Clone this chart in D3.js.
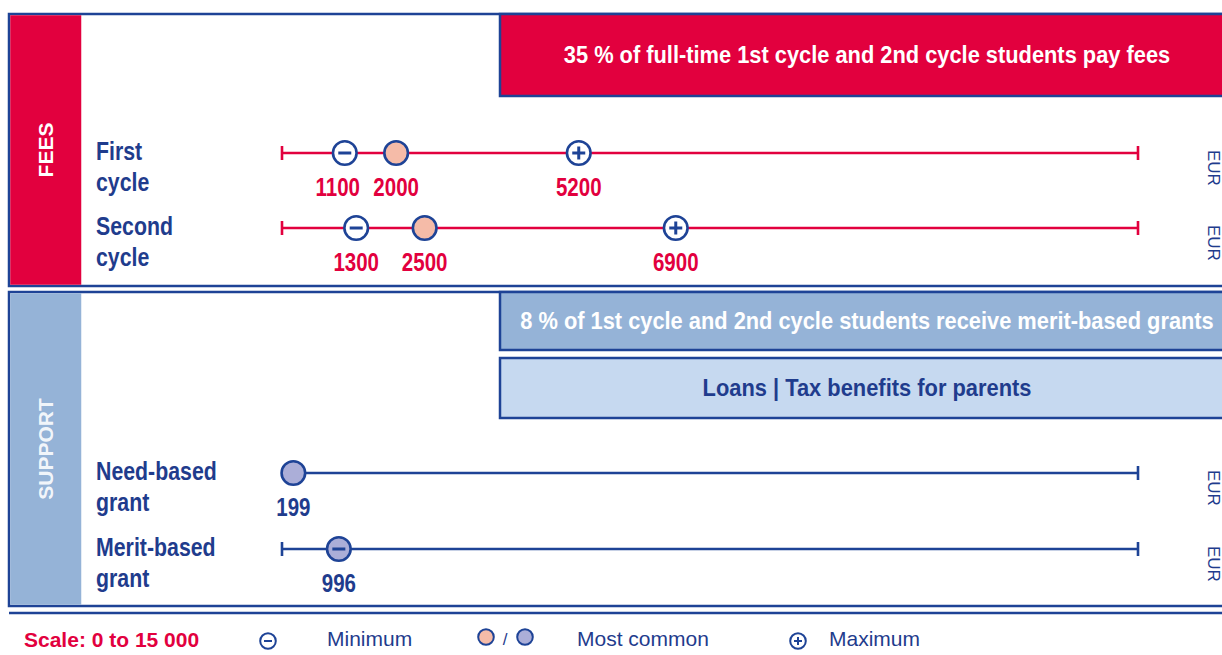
<!DOCTYPE html>
<html>
<head>
<meta charset="utf-8">
<script src="https://cdn.jsdelivr.net/npm/d3@7"></script>
<style>
  html, body { margin: 0; padding: 0; background: #fff; }
  svg { display: block; }
  .arial { font-family: "Liberation Sans", Arial, sans-serif; }
</style>
</head>
<body>
<svg id="chart" width="1222" height="655"></svg>
<script>
// ---------- DATA ----------
const categories   = ["First cycle", "Second cycle", "Need-based grant", "Merit-based grant"];
const rowSection   = ["FEES", "FEES", "SUPPORT", "SUPPORT"];
const minValues    = [1100, 1300, null, 996];
const commonValues = [2000, 2500, 199, 996];
const maxValues    = [5200, 6900, null, null];
const scaleDomain  = [0, 15000];
const unitLabel    = "EUR";
const sectionNames = ["FEES", "SUPPORT"];
const feesNotes    = ["35 % of full-time 1st cycle and 2nd cycle students pay fees"];
const supportNotes = ["8 % of 1st cycle and 2nd cycle students receive merit-based grants", "Loans | Tax benefits for parents"];
const legendLabels = ["Minimum", "Most common", "Maximum"];
const scaleLabel   = "Scale: 0 to 15 000";

// ---------- STYLE ----------
const RED = "#e2003e", BLUE = "#1e4396", TXT = "#1f3c8d";
const LIGHT = "#95b3d7", PALE = "#c6d9f0", PEACH = "#f5bba8", LAV = "#abaed8";
const NARROW = 0.82;
const R = 11.8;

const svg = d3.select("#chart");
const W = 1222;

const x = d3.scaleLinear().domain(scaleDomain).range([282, 1138]);
const y = d3.scaleOrdinal().domain(categories).range([153, 228, 473, 549]);

// condensed bold text: Liberation Sans Bold compressed horizontally (like Arial Narrow)
function narrowText(px, py, str, size, fill, anchor, targetWidth) {
  const g = svg.append("g");
  const t = g.append("text").attr("class", "arial")
    .attr("font-size", size).attr("font-weight", "bold").attr("fill", fill)
    .attr("text-anchor", anchor || "start").text(str);
  let sx = NARROW;
  if (targetWidth) {
    const len = t.node().getComputedTextLength();
    if (len > 0) sx = targetWidth / len;
  }
  g.attr("transform", `translate(${px},${py}) scale(${sx},1)`);
  return t;
}

// ---------- SECTION BOXES ----------
const sectionBoxes = [
  {name: sectionNames[0], y0: 14, y1: 286, band: RED, labelY: 150},
  {name: sectionNames[1], y0: 292, y1: 606, band: LIGHT, labelY: 449}
];
sectionBoxes.forEach(s => {
  svg.append("rect").attr("x", 9).attr("y", s.y0).attr("width", W).attr("height", s.y1 - s.y0)
    .attr("fill", "#fff").attr("stroke", BLUE).attr("stroke-width", 2.5);
  svg.append("rect").attr("x", 10.25).attr("y", s.y0 + 1.25).attr("width", 71).attr("height", s.y1 - s.y0 - 2.5)
    .attr("fill", s.band);
  svg.append("text").attr("class", "arial")
    .attr("transform", `translate(45.5,${s.labelY}) rotate(-90)`)
    .attr("text-anchor", "middle").attr("dy", "0.36em")
    .attr("font-size", 21).attr("font-weight", "bold").attr("fill", "#fff")
    .attr("fill-opacity", s.name === "SUPPORT" ? 0.9 : 1)
    .text(s.name);
});
svg.append("line").attr("x1", 9).attr("x2", W).attr("y1", 613).attr("y2", 613)
  .attr("stroke", BLUE).attr("stroke-width", 2.5);

// ---------- NOTE BOXES ----------
const notes = [
  {text: feesNotes[0], y0: 14, y1: 96, fill: RED, color: "#fff", len: 607},
  {text: supportNotes[0], y0: 292, y1: 350, fill: LIGHT, color: "#fff", len: 694},
  {text: supportNotes[1], y0: 358, y1: 418, fill: PALE, color: TXT, len: 329}
];
notes.forEach(n => {
  svg.append("rect").attr("x", 500).attr("y", n.y0).attr("width", 740).attr("height", n.y1 - n.y0)
    .attr("fill", n.fill).attr("stroke", BLUE).attr("stroke-width", 2.5);
  narrowText(867, (n.y0 + n.y1) / 2 + 8, n.text, 23, n.color, "middle", n.len);
});

// ---------- ROWS ----------
const rows = categories.map((c, i) => ({
  cat: c, sec: rowSection[i], min: minValues[i], common: commonValues[i], max: maxValues[i]
}));

rows.forEach(r => {
  const ly = y(r.cat);
  const col = r.sec === "FEES" ? RED : BLUE;

  // markers (merge coinciding values)
  const marks = [];
  const add = (v, type) => {
    if (v == null) return;
    let m = marks.find(d => d.v === v);
    if (!m) { m = {v, types: []}; marks.push(m); }
    m.types.push(type);
  };
  add(r.min, "min"); add(r.common, "common"); add(r.max, "max");

  // baseline
  svg.append("line").attr("x1", x(scaleDomain[0])).attr("x2", x(scaleDomain[1]))
    .attr("y1", ly).attr("y2", ly).attr("stroke", col).attr("stroke-width", 2.6);
  // end caps (hidden where a marker covers the scale end)
  scaleDomain.forEach(v => {
    if (marks.some(m => Math.abs(x(m.v) - x(v)) < R + 2)) return;
    svg.append("line").attr("x1", x(v)).attr("x2", x(v)).attr("y1", ly - 7).attr("y2", ly + 7)
      .attr("stroke", col).attr("stroke-width", 2.6);
  });
  // row label (two lines)
  const words = r.cat.split(" ");
  narrowText(96, ly + 7, words[0], 26, TXT, "start");
  narrowText(96, ly + 38, words.slice(1).join(" "), 26, TXT, "start");
  // unit label
  svg.append("text").attr("class", "arial").attr("font-size", 17).attr("fill", TXT)
    .attr("transform", `translate(1208,${ly - 3}) rotate(90)`)
    .text(unitLabel);

  const commonFill = r.sec === "FEES" ? PEACH : LAV;
  marks.forEach(m => {
    const cx = x(m.v);
    svg.append("circle").attr("cx", cx).attr("cy", ly).attr("r", R)
      .attr("fill", m.types.includes("common") ? commonFill : "#fff")
      .attr("stroke", BLUE).attr("stroke-width", 2.6);
    if (m.types.includes("min") || m.types.includes("max")) {
      svg.append("line").attr("x1", cx - 6.5).attr("x2", cx + 6.5).attr("y1", ly).attr("y2", ly)
        .attr("stroke", BLUE).attr("stroke-width", 3);
    }
    if (m.types.includes("max")) {
      svg.append("line").attr("x1", cx).attr("x2", cx).attr("y1", ly - 6.5).attr("y2", ly + 6.5)
        .attr("stroke", BLUE).attr("stroke-width", 3);
    }
  });
  // value labels
  const sorted = marks.map(m => m.v).sort((a, b) => a - b);
  sorted.forEach((v, k) => {
    let cx = x(v);
    const next = sorted[k + 1];
    if (next != null && x(next) - cx < 60) cx -= 7;
    narrowText(cx, ly + 43, String(v), 25, r.sec === "FEES" ? RED : TXT, "middle");
  });
});

// ---------- LEGEND ----------
const LY = 640;
svg.append("text").attr("class", "arial").attr("x", 24).attr("y", LY + 7)
  .attr("font-size", 21).attr("font-weight", "bold").attr("fill", RED).text(scaleLabel);

// minimum icon
svg.append("circle").attr("cx", 268).attr("cy", LY + 1).attr("r", 7.8).attr("fill", "#fff")
  .attr("stroke", BLUE).attr("stroke-width", 2);
svg.append("line").attr("x1", 264).attr("x2", 272).attr("y1", LY + 1).attr("y2", LY + 1)
  .attr("stroke", BLUE).attr("stroke-width", 2);
// common icons
svg.append("circle").attr("cx", 486).attr("cy", LY - 3).attr("r", 7.8).attr("fill", PEACH)
  .attr("stroke", BLUE).attr("stroke-width", 2);
svg.append("text").attr("class", "arial").attr("x", 505).attr("y", LY + 5).attr("text-anchor", "middle")
  .attr("font-size", 17).attr("fill", TXT).text("/");
svg.append("circle").attr("cx", 525).attr("cy", LY - 3).attr("r", 7.8).attr("fill", LAV)
  .attr("stroke", BLUE).attr("stroke-width", 2);
// maximum icon
svg.append("circle").attr("cx", 798).attr("cy", LY + 1).attr("r", 7.8).attr("fill", "#fff")
  .attr("stroke", BLUE).attr("stroke-width", 2);
svg.append("line").attr("x1", 794).attr("x2", 802).attr("y1", LY + 1).attr("y2", LY + 1)
  .attr("stroke", BLUE).attr("stroke-width", 2);
svg.append("line").attr("x1", 798).attr("x2", 798).attr("y1", LY - 3).attr("y2", LY + 5)
  .attr("stroke", BLUE).attr("stroke-width", 2);

const legendX = [327, 577, 829];
legendLabels.forEach((t, i) => {
  svg.append("text").attr("class", "arial").attr("x", legendX[i]).attr("y", LY + 6)
    .attr("font-size", 21).attr("fill", TXT).text(t);
});
</script>
</body>
</html>
